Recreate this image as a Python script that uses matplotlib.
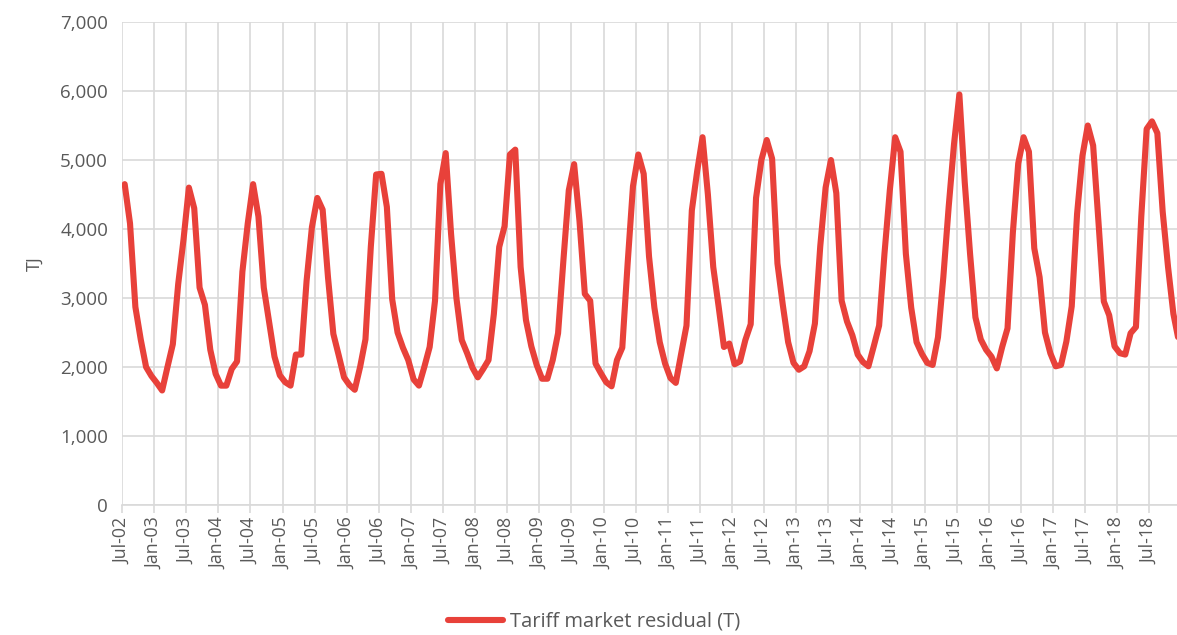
import matplotlib

matplotlib.use("Agg")
import matplotlib.pyplot as plt
from matplotlib.ticker import FuncFormatter

# Monthly tariff market residual demand (TJ), Jul-02 .. Dec-18
VALUES = [
    4650, 4080, 2870, 2400, 2000, 1870,  # Jul-02 .. Dec-02
    1770, 1660, 2000, 2330, 3200, 3850,  # 2003 H1
    4600, 4300, 3150, 2900, 2250, 1900,
    1730, 1730, 1970, 2080, 3380, 4080,  # 2004
    4650, 4180, 3150, 2650, 2150, 1880,
    1780, 1730, 2180, 2180, 3250, 4030,  # 2005
    4450, 4280, 3300, 2480, 2170, 1850,
    1740, 1670, 2000, 2400, 3740, 4790,  # 2006
    4800, 4320, 2980, 2500, 2280, 2100,
    1820, 1730, 2000, 2290, 2960, 4650,  # 2007
    5100, 3930, 3000, 2390, 2200, 1990,
    1850, 1970, 2100, 2770, 3740, 4040,  # 2008
    5080, 5150, 3450, 2680, 2300, 2030,
    1830, 1830, 2100, 2490, 3550, 4560,  # 2009
    4940, 4120, 3060, 2960, 2050, 1910,
    1780, 1720, 2100, 2280, 3500, 4620,  # 2010
    5080, 4800, 3600, 2860, 2360, 2050,
    1840, 1770, 2190, 2600, 4270, 4840,  # 2011
    5330, 4500, 3450, 2880, 2290, 2340,
    2040, 2080, 2390, 2620, 4450, 5000,  # 2012
    5290, 5020, 3500, 2900, 2360, 2060,
    1960, 2010, 2230, 2630, 3750, 4600,  # 2013
    5000, 4520, 2960, 2660, 2460, 2180,
    2070, 2010, 2300, 2600, 3640, 4560,  # 2014
    5330, 5120, 3640, 2860, 2360, 2190,
    2060, 2030, 2430, 3300, 4320, 5230,  # 2015
    5950, 4680, 3640, 2720, 2400, 2250,
    2150, 1980, 2290, 2560, 3950, 4950,  # 2016
    5330, 5120, 3720, 3300, 2500, 2200,
    2010, 2030, 2370, 2880, 4220, 5060,  # 2017
    5500, 5210, 4100, 2950, 2750, 2300,
    2200, 2180, 2490, 2580, 4180, 5450,  # 2018
    5560, 5390, 4250, 3450, 2770, 2380,
]

TICK_LABELS = [
    "Jul-02", "Jan-03", "Jul-03", "Jan-04", "Jul-04", "Jan-05", "Jul-05",
    "Jan-06", "Jul-06", "Jan-07", "Jul-07", "Jan-08", "Jul-08", "Jan-09",
    "Jul-09", "Jan-10", "Jul-10", "Jan-11", "Jul-11", "Jan-12", "Jul-12",
    "Jan-13", "Jul-13", "Jan-14", "Jul-14", "Jan-15", "Jul-15", "Jan-16",
    "Jul-16", "Jan-17", "Jul-17", "Jan-18", "Jul-18",
]

SERIES_LABEL = "Tariff market residual (T)"
LINE_COLOR = "#E8413A"
GRID_COLOR = "#D9D9D9"
TEXT_COLOR = "#595959"

plt.rcParams["font.family"] = ["Open Sans", "DejaVu Sans"]

W, H = 1177, 635
fig = plt.figure(figsize=(W / 100, H / 100), dpi=100)
ax = fig.add_axes([122 / W, 1 - 505 / H, (W - 122) / W, (505 - 22) / H])

months = list(range(len(VALUES)))
ax.plot(months, VALUES, color=LINE_COLOR, lw=4.4, solid_joinstyle="round",
        solid_capstyle="round", label=SERIES_LABEL, zorder=3)

tick_pos = [i * 6 - 0.5 for i in range(len(TICK_LABELS))]
ax.set_xticks(tick_pos)
ax.set_xticklabels(TICK_LABELS, rotation=90, fontsize=12.8, color=TEXT_COLOR)
ax.set_xlim(-0.5, (W - 124.4) / 5.352)

ax.set_ylim(0, 7000)
ax.set_yticks(range(0, 7001, 1000))
ax.yaxis.set_major_formatter(FuncFormatter(lambda v, _: f"{v:,.0f}"))
ax.tick_params(axis="y", length=0, pad=10, labelsize=13.5, labelcolor=TEXT_COLOR)
ax.tick_params(axis="x", length=6, width=1.2, color=GRID_COLOR, pad=3)

ax.grid(True, color=GRID_COLOR, lw=1.2, zorder=0)
ax.set_axisbelow(True)
for side in ("top", "right", "left"):
    ax.spines[side].set_visible(False)
ax.spines["bottom"].set_color(GRID_COLOR)
ax.spines["bottom"].set_linewidth(1.2)

ax.set_ylabel("TJ", fontsize=13, color=TEXT_COLOR, labelpad=12)

fig.legend(loc="center", bbox_to_anchor=(594 / W, 1 - 622 / H), frameon=False,
           fontsize=14.5, handlelength=2.7, handletextpad=0.35,
           labelcolor=TEXT_COLOR)

fig.savefig("out.png", dpi=100)
